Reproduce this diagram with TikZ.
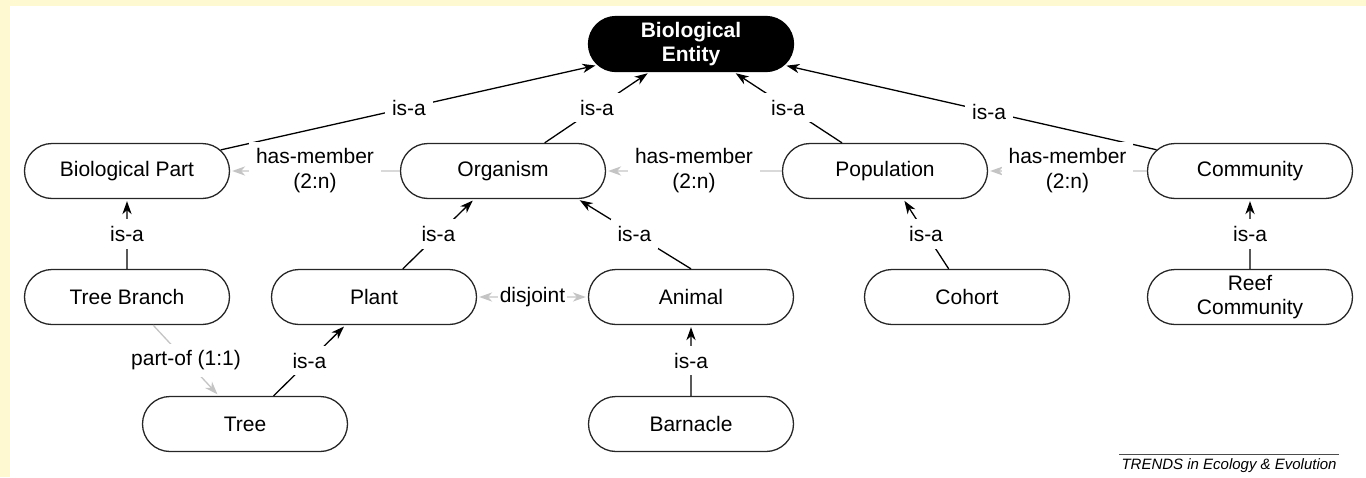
\documentclass[tikz,border=0pt]{standalone}
\usepackage{fontspec}
\setmainfont{Liberation Sans}
\usetikzlibrary{calc,shapes,arrows,arrows.meta}

\definecolor{paper}{RGB}{255,249,209}
\definecolor{relgray}{RGB}{196,196,196}

\tikzset{
    >={Stealth[length=6.5pt, width=4.6pt, inset=2pt]},
    concept/.style={draw, rounded rectangle, line width=0.65pt, draw=black!85,
        minimum width=102.5pt, minimum height=27.5pt, inner sep=0pt,
        align=center, font=\fontsize{10.5}{12}\selectfont},
    root/.style={concept, fill=black, draw=black, text=white,
        font=\fontsize{10.5}{12}\selectfont\bfseries},
    isa/.style={->, line width=0.65pt, shorten >=1pt},
    rel/.style={->, line width=0.65pt, color=relgray, shorten >=1pt},
    lab/.style={fill=white, text=black, inner sep=3.5pt, align=center,
        font=\fontsize{10.5}{12.5}\selectfont},
}

\begin{document}
\begin{tikzpicture}[x=0.5pt,y=-0.5pt]
        \useasboundingbox (0,0) rectangle (1366,477);
        \fill[paper] (0,0) rectangle (10,477);
        \fill[paper] (0,0) rectangle (1366,6);

        % concepts
        \node[root]    (entity)     at (691,44)  {Biological\\Entity};
        \node[concept] (bpart)      at (127,171) {Biological Part};
        \node[concept] (organism)   at (503,171) {Organism};
        \node[concept] (population) at (885,171) {Population};
        \node[concept] (community)  at (1250,171) {Community};
        \node[concept] (branch)     at (127,297) {Tree Branch};
        \node[concept] (plant)      at (374,297) {Plant};
        \node[concept] (animal)     at (691,297) {Animal};
        \node[concept] (cohort)     at (967,297) {Cohort};
        \node[concept] (reef)       at (1250,297) {Reef\\Community};
        \node[concept] (tree)       at (245,424) {Tree};
        \node[concept] (barnacle)   at (691,424) {Barnacle};

        % is-a links
        \draw[isa] (bpart) -- node[lab] {is-a} (entity);
        \draw[isa] (organism) -- node[lab] {is-a} (entity);
        \draw[isa] (population) -- node[lab] {is-a} (entity);
        \draw[isa] (community) -- node[lab, pos=0.45] {is-a} (entity);
        \draw[isa] (branch) -- node[lab] {is-a} (bpart);
        \draw[isa] (plant) -- node[lab] {is-a} (organism);
        \draw[isa] (animal.north) -- node[lab] {is-a} (organism.south east);
        \draw[isa] (cohort) -- node[lab] {is-a} (population);
        \draw[isa] (reef) -- node[lab] {is-a} (community);
        \draw[isa] (tree) -- node[lab] {is-a} (plant);
        \draw[isa] (barnacle) -- node[lab] {is-a} (animal);

        % other relations
        \draw[rel] (organism) -- node[lab] {has-member\\(2:n)} (bpart);
        \draw[rel] (population) -- node[lab] {has-member\\(2:n)} (organism);
        \draw[rel] (community) -- node[lab] {has-member\\(2:n)} (population);
        \draw[rel] (branch) -- node[lab] {part-of (1:1)} (tree);
        \draw[rel, <->, shorten <=1pt] (plant) -- node[lab, inner sep=1pt] {disjoint} (animal);

        \node[anchor=east, inner sep=1pt, font=\fontsize{7.5}{9}\selectfont\itshape] (credit) at (1339,466) {TRENDS in Ecology \& Evolution};
        \draw[line width=0.4pt, black!70] ([yshift=1pt]credit.north west) -- ([yshift=1pt]credit.north east);
    \end{tikzpicture}
\end{document}
